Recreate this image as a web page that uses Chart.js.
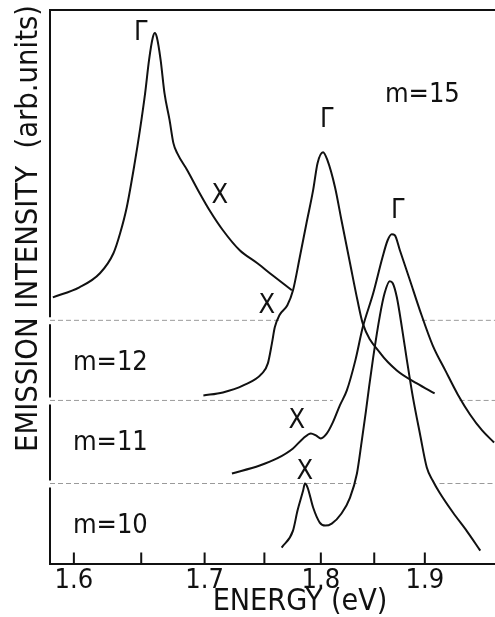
<!DOCTYPE html>
<html><head><meta charset="utf-8">
<script src="https://cdn.jsdelivr.net/npm/chart.js@4.4.1/dist/chart.umd.min.js"></script>
<style>html,body{margin:0;padding:0;background:#fff;}#wrap{width:495px;height:617px;}</style>
</head><body><div id="wrap"><canvas id="c" width="495" height="617"></canvas></div>
<script>
// ---- data (energies in eV, intensities in arb. units above each curve's baseline)
const xTickEnergies = [1.6, 1.65, 1.7, 1.75, 1.8, 1.85, 1.9];
const xTickLabels = ['1.6', '', '1.7', '', '1.8', '', '1.9'];
const energyRange = [1.583, 1.974];
const seriesLabels = ['m=15', 'm=12', 'm=11', 'm=10'];
const baselineOffsets = [243, 163, 80, 0];

const m15Energy = [1.585,1.604,1.619,1.629,1.634,1.639,1.645,1.649,1.653,1.656,1.659,1.6605,1.662,1.665,1.668,1.672,1.675,1.678,1.686,1.696,1.704,1.715,1.729,1.744,1.757,1.774];
const m15Intensity = [23,33,47,67,87,113,157,190,227,260,283,287,283,260,227,200,177,167,150,127,110,90,70,57,45,30];

const m12Energy = [1.699,1.715,1.732,1.748,1.753,1.7565,1.759,1.763,1.770,1.775,1.781,1.787,1.793,1.797,1.802,1.806,1.813,1.819,1.827,1.834,1.839,1.856,1.872,1.892,1.910];
const m12Intensity = [5,8,15,27,37,57,73,85,95,110,143,177,210,237,248,240,213,180,137,100,77,47,30,17,7];

const m11Energy = [1.7225,1.746,1.761,1.775,1.784,1.791,1.7955,1.800,1.8055,1.811,1.8175,1.824,1.832,1.839,1.849,1.858,1.863,1.867,1.870,1.875,1.885,1.895,1.908,1.921,1.934,1.947,1.960,1.973];
const m11Intensity = [10,18,25,35,45,50,48,45,50,61,78,93,123,156,190,226,243,249,248,233,203,173,138,113,89,69,53,41];

const m10Energy = [1.765,1.775,1.779,1.784,1.7856,1.788,1.793,1.799,1.804,1.810,1.819,1.827,1.8335,1.838,1.842,1.845,1.849,1.8555,1.860,1.865,1.868,1.872,1.877,1.882,1.888,1.895,1.902,1.908,1.915,1.929,1.944,1.958];
const m10Intensity = [16,33,53,73,80,76,56,41,38,40,50,66,90,122,152,176,206,248,270,282,280,266,236,203,166,130,96,83,71,51,32,13];

// dashed baselines: visible segments [startE, endE] (hidden where the curves pass)
const baselineSegments = [
  [[1.583, 1.763], [1.897, 1.974]],
  [[1.583, 1.811], [1.936, 1.974]],
  [[1.583, 1.8335], [1.915, 1.974]]
];

// text marks: [text, energy, value]
const peakMarks = [['Γ',1.6497,523],['Γ',1.8055,436],['Γ',1.8730,345]];
const shoulderMarks = [['X',1.7125,360],['X',1.7522,250],['X',1.7784,135],['X',1.7856,85]];
const seriesLabelAnchors = [[1.8603,461],[1.5993,193],[1.5993,113],[1.5993,31]];

const xTitle = 'ENERGY (eV)';
const yTitle = 'EMISSION INTENSITY  (arb.units)';

// ---- build
const FONT = "'Liberation Sans Narrow', 'DejaVu Sans Condensed', 'Liberation Sans', sans-serif";
const INK = '#111';
const energies = [m15Energy, m12Energy, m11Energy, m10Energy];
const intens = [m15Intensity, m12Intensity, m11Intensity, m10Intensity];

const datasets = [];
energies.forEach((E, k) => {
  datasets.push({
    label: seriesLabels[k],
    data: E.map((e, i) => ({x: 1 / e, y: intens[k][i] + baselineOffsets[k]})),
    borderColor: INK, borderWidth: 2, pointRadius: 0,
    cubicInterpolationMode: 'monotone', fill: false
  });
});
baselineSegments.forEach((segs, k) => {
  const pts = [];
  segs.forEach((s, j) => {
    if (j > 0) pts.push({x: 1 / ((segs[j-1][1] + s[0]) / 2), y: null});
    pts.push({x: 1 / s[0], y: baselineOffsets[k]});
    pts.push({x: 1 / s[1], y: baselineOffsets[k]});
  });
  datasets.push({
    label: 'baseline ' + seriesLabels[k],
    data: pts, borderColor: '#9a9a9a', borderWidth: 1, borderDash: [5, 3],
    pointRadius: 0, spanGaps: false, tension: 0
  });
});

const decor = {
  id: 'decor',
  afterDraw(chart) {
    const ctx = chart.ctx, a = chart.chartArea;
    const xs = chart.scales.x, ys = chart.scales.y;
    ctx.save();
    ctx.strokeStyle = INK; ctx.fillStyle = INK;
    // top frame
    ctx.lineWidth = 2;
    ctx.beginPath(); ctx.moveTo(a.left - 1, a.top); ctx.lineTo(a.right, a.top); ctx.stroke();
    // left axis, broken at each baseline
    const gaps = baselineOffsets.slice(0, 3).map(v => ys.getPixelForValue(v));
    let y0 = a.top;
    ctx.beginPath();
    gaps.forEach(g => { ctx.moveTo(a.left, y0); ctx.lineTo(a.left, g - 3); y0 = g + 4; });
    ctx.moveTo(a.left, y0); ctx.lineTo(a.left, a.bottom + 1);
    ctx.stroke();
    // inward ticks
    ctx.lineWidth = 2;
    ctx.beginPath();
    xTickEnergies.forEach(e => {
      const px = xs.getPixelForValue(1 / e);
      ctx.moveTo(px, a.bottom); ctx.lineTo(px, a.bottom - 11);
    });
    ctx.stroke();
    // marks
    ctx.textAlign = 'center'; ctx.textBaseline = 'alphabetic';
    ctx.font = '27px ' + FONT;
    peakMarks.concat(shoulderMarks).forEach(m => {
      ctx.fillText(m[0], xs.getPixelForValue(1 / m[1]), ys.getPixelForValue(m[2]));
    });
    ctx.textAlign = 'left';
    ctx.font = '27px ' + FONT;
    seriesLabelAnchors.forEach((p, k) => {
      ctx.fillText(seriesLabels[k], xs.getPixelForValue(1 / p[0]), ys.getPixelForValue(p[1]));
    });
    // x title
    ctx.font = '30px ' + FONT;
    let w = ctx.measureText(xTitle).width;
    let fs = 30 * 175 / w;
    ctx.font = fs.toFixed(1) + 'px ' + FONT;
    ctx.textAlign = 'center';
    ctx.fillText(xTitle, 300, 610);
    // y title
    ctx.font = '32px ' + FONT;
    w = ctx.measureText(yTitle).width;
    fs = 32 * 447 / w;
    ctx.font = fs.toFixed(1) + 'px ' + FONT;
    ctx.translate(37, 452);
    ctx.rotate(-Math.PI / 2);
    ctx.textAlign = 'left';
    ctx.fillText(yTitle, 0, 0);
    ctx.restore();
  }
};

new Chart(document.getElementById('c'), {
  type: 'line',
  data: {datasets},
  options: {
    responsive: false, animation: false, devicePixelRatio: 1,
    layout: {padding: {left: 50, top: 10, right: 0, bottom: 19}},
    plugins: {legend: {display: false}, tooltip: {enabled: false}},
    scales: {
      x: {
        type: 'linear', reverse: true,
        min: 1 / energyRange[1], max: 1 / energyRange[0],
        afterBuildTicks(s) { s.ticks = xTickEnergies.map(e => ({value: 1 / e})); },
        grid: {display: false, drawTicks: false},
        border: {display: true, color: INK, width: 2},
        ticks: {
          padding: 1, color: INK, maxRotation: 0, autoSkip: false,
          font: {family: FONT, size: 27},
          callback(v) {
            const i = xTickEnergies.findIndex(e => Math.abs(1 / e - v) < 1e-6);
            return i >= 0 ? xTickLabels[i] : '';
          }
        }
      },
      y: {type: 'linear', display: false, min: 0, max: 553}
    }
  },
  plugins: [decor]
});
</script></body></html>
